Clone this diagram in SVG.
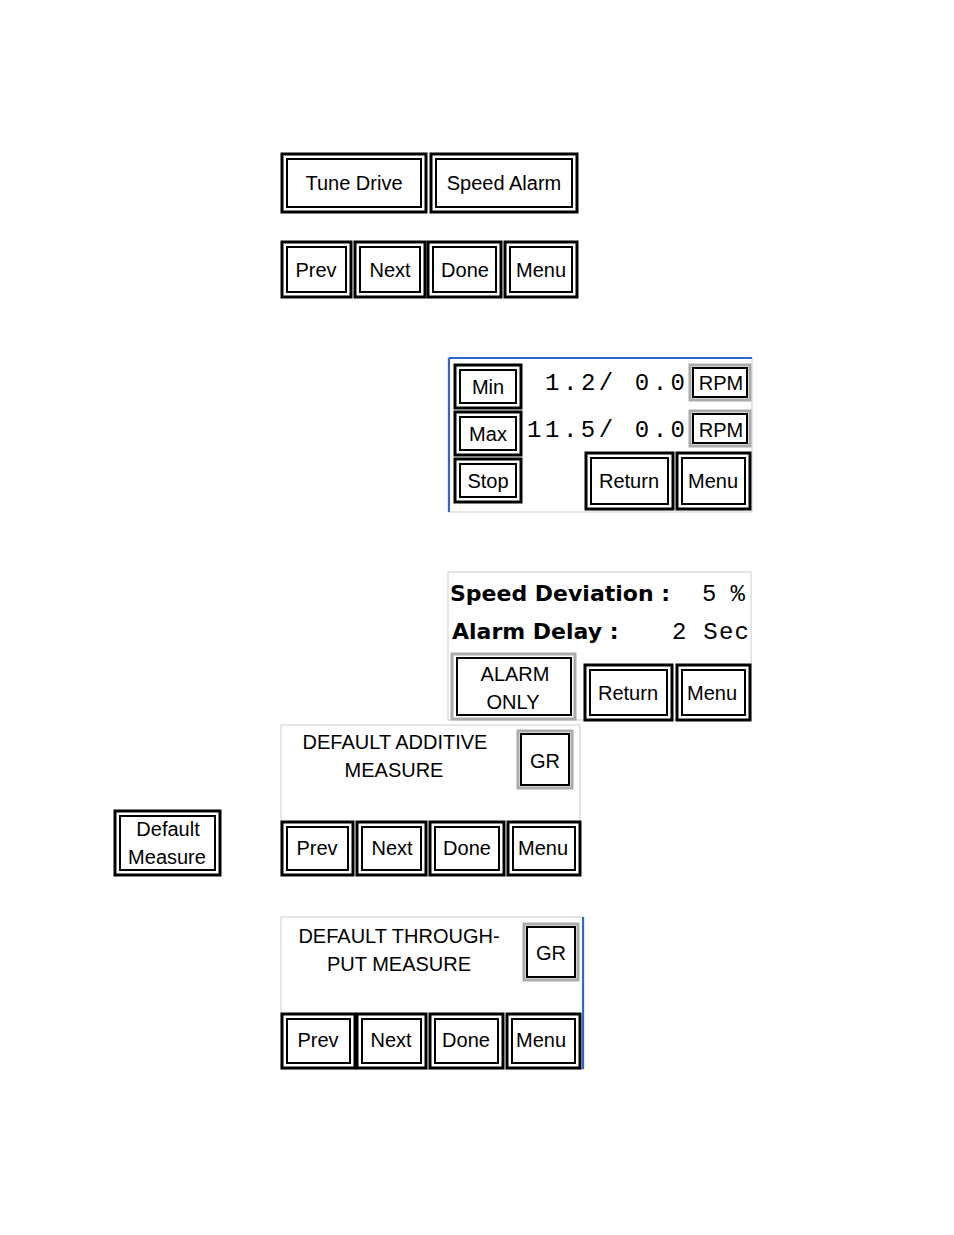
<svg xmlns="http://www.w3.org/2000/svg" width="954" height="1235" viewBox="0 0 954 1235">
<style>
.o{fill:#fff;stroke:#000;stroke-width:3}
.i{fill:#fff;stroke:#000;stroke-width:2}
.g{fill:#fff;stroke:#aaa;stroke-width:3}
.t{font-family:"Liberation Sans",Arial,sans-serif;font-size:20px;text-anchor:middle;fill:#000}
.m{font-family:"Liberation Mono",monospace;font-size:24px;fill:#000}
.b{font-family:"DejaVu Sans",sans-serif;font-weight:bold;font-size:22px;fill:#000}
.f{fill:#fff;stroke:#ccc;stroke-width:1}
</style>
<rect width="954" height="1235" fill="#fff"/>
<g id="frames">
<rect class="f" x="448" y="358" width="304" height="154"/>
<line x1="449" y1="358" x2="752" y2="358" stroke="#36c" stroke-width="2"/>
<line x1="449" y1="358" x2="449" y2="512" stroke="#36c" stroke-width="2"/>
<rect class="f" x="448" y="572" width="303" height="148"/>
<rect class="f" x="281" y="725" width="299" height="150"/>
<rect class="f" x="281" y="917" width="303" height="152"/>
<line x1="583" y1="917" x2="583" y2="1069" stroke="#36c" stroke-width="2"/>
</g>
<g id="b-tune"><rect class="o" x="282" y="154" width="144" height="58"/><rect class="i" x="287" y="159" width="134" height="48"/><text class="t" x="354" y="190">Tune Drive</text></g>
<g id="b-speed"><rect class="o" x="431" y="154" width="146" height="58"/><rect class="i" x="436" y="159" width="136" height="48"/><text class="t" x="504" y="190">Speed Alarm</text></g>
<g id="b-prev1"><rect class="o" x="282" y="242" width="69" height="55"/><rect class="i" x="287" y="247" width="59" height="45"/><text class="t" x="316" y="277">Prev</text></g>
<g id="b-next1"><rect class="o" x="355" y="242" width="70" height="55"/><rect class="i" x="360" y="247" width="60" height="45"/><text class="t" x="390" y="277">Next</text></g>
<g id="b-done1"><rect class="o" x="428" y="242" width="73" height="55"/><rect class="i" x="433" y="247" width="63" height="45"/><text class="t" x="465" y="277">Done</text></g>
<g id="b-menu1"><rect class="o" x="505" y="242" width="72" height="55"/><rect class="i" x="510" y="247" width="62" height="45"/><text class="t" x="541" y="277">Menu</text></g>

<g id="b-min"><rect class="o" x="455" y="365" width="66" height="43"/><rect class="i" x="460" y="370" width="56" height="33"/><text class="t" x="488" y="394">Min</text></g>
<g id="b-max"><rect class="o" x="455" y="412" width="66" height="43"/><rect class="i" x="460" y="417" width="56" height="33"/><text class="t" x="488" y="441">Max</text></g>
<g id="b-stop"><rect class="o" x="455" y="459" width="66" height="43"/><rect class="i" x="460" y="464" width="56" height="33"/><text class="t" x="488" y="488">Stop</text></g>
<text class="m" x="545" y="390" textLength="140" lengthAdjust="spacing">1.2/ 0.0</text>
<text class="m" x="527" y="437" textLength="158" lengthAdjust="spacing">11.5/ 0.0</text>
<g id="b-rpm1"><rect class="g" x="690" y="365" width="60" height="35"/><rect class="i" x="693" y="368" width="54" height="29"/><text class="t" x="721" y="390">RPM</text></g>
<g id="b-rpm2"><rect class="g" x="690" y="411" width="60" height="35"/><rect class="i" x="693" y="414" width="54" height="29"/><text class="t" x="721" y="437">RPM</text></g>
<g id="b-return1"><rect class="o" x="586" y="453" width="87" height="56"/><rect class="i" x="591" y="458" width="77" height="46"/><text class="t" x="629" y="488">Return</text></g>
<g id="b-menu2"><rect class="o" x="677" y="453" width="73" height="56"/><rect class="i" x="682" y="458" width="63" height="46"/><text class="t" x="713" y="488">Menu</text></g>

<text class="b" x="450" y="601">Speed Deviation :</text>
<text class="m" x="702" y="601" textLength="43" lengthAdjust="spacing">5 %</text>
<text class="b" x="452" y="639">Alarm Delay :</text>
<text class="m" x="672" y="639" textLength="77" lengthAdjust="spacing">2 Sec</text>
<g id="b-alarm"><rect class="g" x="452" y="654" width="123" height="65"/><rect class="i" x="457" y="658" width="114" height="57"/><text class="t" x="515" y="681">ALARM</text><text class="t" x="513" y="709">ONLY</text></g>
<g id="b-return2"><rect class="o" x="585" y="665" width="87" height="55"/><rect class="i" x="590" y="670" width="77" height="45"/><text class="t" x="628" y="700">Return</text></g>
<g id="b-menu3"><rect class="o" x="677" y="665" width="73" height="55"/><rect class="i" x="682" y="670" width="63" height="45"/><text class="t" x="712" y="700">Menu</text></g>

<text class="t" x="395" y="749">DEFAULT ADDITIVE</text>
<text class="t" x="394" y="777">MEASURE</text>
<g id="b-gr1"><rect class="g" x="518" y="731" width="54" height="57"/><rect class="i" x="521" y="734" width="48" height="51"/><text class="t" x="545" y="768">GR</text></g>
<g id="b-prev2"><rect class="o" x="282" y="822" width="71" height="53"/><rect class="i" x="287" y="827" width="61" height="43"/><text class="t" x="317" y="855">Prev</text></g>
<g id="b-next2"><rect class="o" x="357" y="822" width="69" height="53"/><rect class="i" x="362" y="827" width="59" height="43"/><text class="t" x="392" y="855">Next</text></g>
<g id="b-done2"><rect class="o" x="430" y="822" width="74" height="53"/><rect class="i" x="435" y="827" width="64" height="43"/><text class="t" x="467" y="855">Done</text></g>
<g id="b-menu4"><rect class="o" x="508" y="822" width="72" height="53"/><rect class="i" x="513" y="827" width="62" height="43"/><text class="t" x="543" y="855">Menu</text></g>

<g id="b-default"><rect class="o" x="115" y="811" width="105" height="64"/><rect class="i" x="120" y="816" width="95" height="54"/><text class="t" x="168" y="836">Default</text><text class="t" x="167" y="864">Measure</text></g>

<text class="t" x="399" y="943">DEFAULT THROUGH-</text>
<text class="t" x="399" y="971">PUT MEASURE</text>
<g id="b-gr2"><rect class="g" x="524" y="924" width="54" height="56"/><rect class="i" x="527" y="927" width="48" height="50"/><text class="t" x="551" y="960">GR</text></g>
<g id="b-prev3"><rect class="o" x="282" y="1014" width="73" height="54"/><rect class="i" x="287" y="1019" width="63" height="44"/><text class="t" x="318" y="1047">Prev</text></g>
<g id="b-next3"><rect class="o" x="357" y="1014" width="69" height="54"/><rect class="i" x="362" y="1019" width="59" height="44"/><text class="t" x="391" y="1047">Next</text></g>
<g id="b-done3"><rect class="o" x="430" y="1014" width="73" height="54"/><rect class="i" x="435" y="1019" width="63" height="44"/><text class="t" x="466" y="1047">Done</text></g>
<g id="b-menu5"><rect class="o" x="507" y="1014" width="73" height="54"/><rect class="i" x="512" y="1019" width="63" height="44"/><text class="t" x="541" y="1047">Menu</text></g>
<g id="connectors"></g>
</svg>
